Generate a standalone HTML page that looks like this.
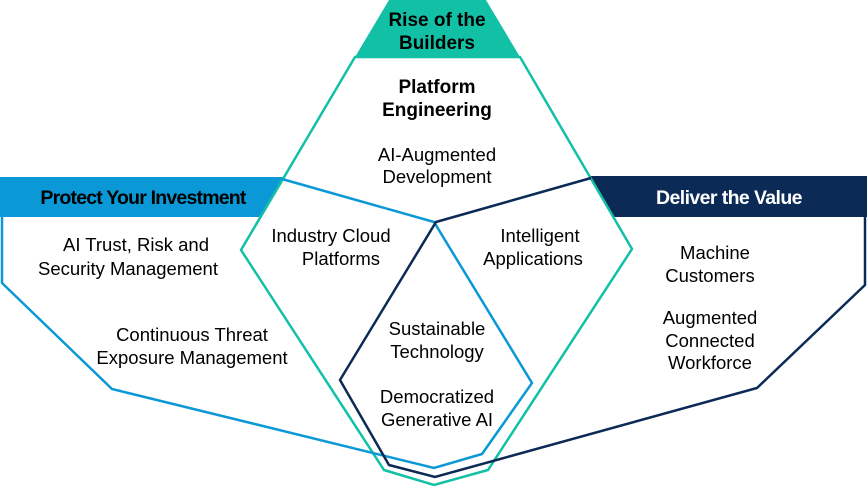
<!DOCTYPE html>
<html><head><meta charset="utf-8"><style>
html,body{margin:0;padding:0;background:#fff;}
svg{display:block;}
text{font-family:"Liberation Sans",Arial,sans-serif;font-size:18.5px;fill:#000;text-anchor:middle;}
.b{font-weight:bold;font-size:19px;}
</style></head><body>
<svg width="867" height="487" viewBox="0 0 867 487" xmlns="http://www.w3.org/2000/svg">
<polygon points="389,0 486,0 520,57 355,57" fill="#12C0A6"/>
<polygon points="0,177 284,177 260,217 0,217" fill="#0A98D6"/>
<polygon points="590,176 867,176 867,217 614,217" fill="#0B2A55"/>
<polygon points="355,57 520,57 632,249 488,470 434,485 384,470 241,250" fill="none" stroke="#12C0A6" stroke-width="2.5"/>
<polyline points="282,179 434,222 532,383 482,454 434,468 112,389 2,283 2,217" fill="none" stroke="#0A98D6" stroke-width="2.5"/>
<polyline points="591,178 436,222 340,380 389,465 435,477 757,388 865,285 865,217" fill="none" stroke="#0B2A55" stroke-width="2.5"/>
<text class="b" x="437" y="26">Rise of the</text>
<text class="b" x="437" y="49">Builders</text>
<text class="b" x="437" y="93">Platform</text>
<text class="b" x="437" y="116">Engineering</text>
<text x="437" y="161">AI-Augmented</text>
<text x="437" y="183">Development</text>
<text class="b" x="143" y="204" style="font-size:19.5px;letter-spacing:-0.8px">Protect Your Investment</text>
<text class="b" x="729" y="204" style="fill:#fff;font-size:19.5px;letter-spacing:-0.6px">Deliver the Value</text>
<text x="136" y="251">AI Trust, Risk and</text>
<text x="128" y="275">Security Management</text>
<text x="192" y="341">Continuous Threat</text>
<text x="192" y="364">Exposure Management</text>
<text x="331" y="242">Industry Cloud</text>
<text x="341" y="265">Platforms</text>
<text x="540" y="242">Intelligent</text>
<text x="533" y="265">Applications</text>
<text x="437" y="335">Sustainable</text>
<text x="437" y="358">Technology</text>
<text x="437" y="403">Democratized</text>
<text x="437" y="426">Generative AI</text>
<text x="715" y="259">Machine</text>
<text x="710" y="282">Customers</text>
<text x="710" y="324">Augmented</text>
<text x="710" y="347">Connected</text>
<text x="710" y="369">Workforce</text>
</svg>
</body></html>
